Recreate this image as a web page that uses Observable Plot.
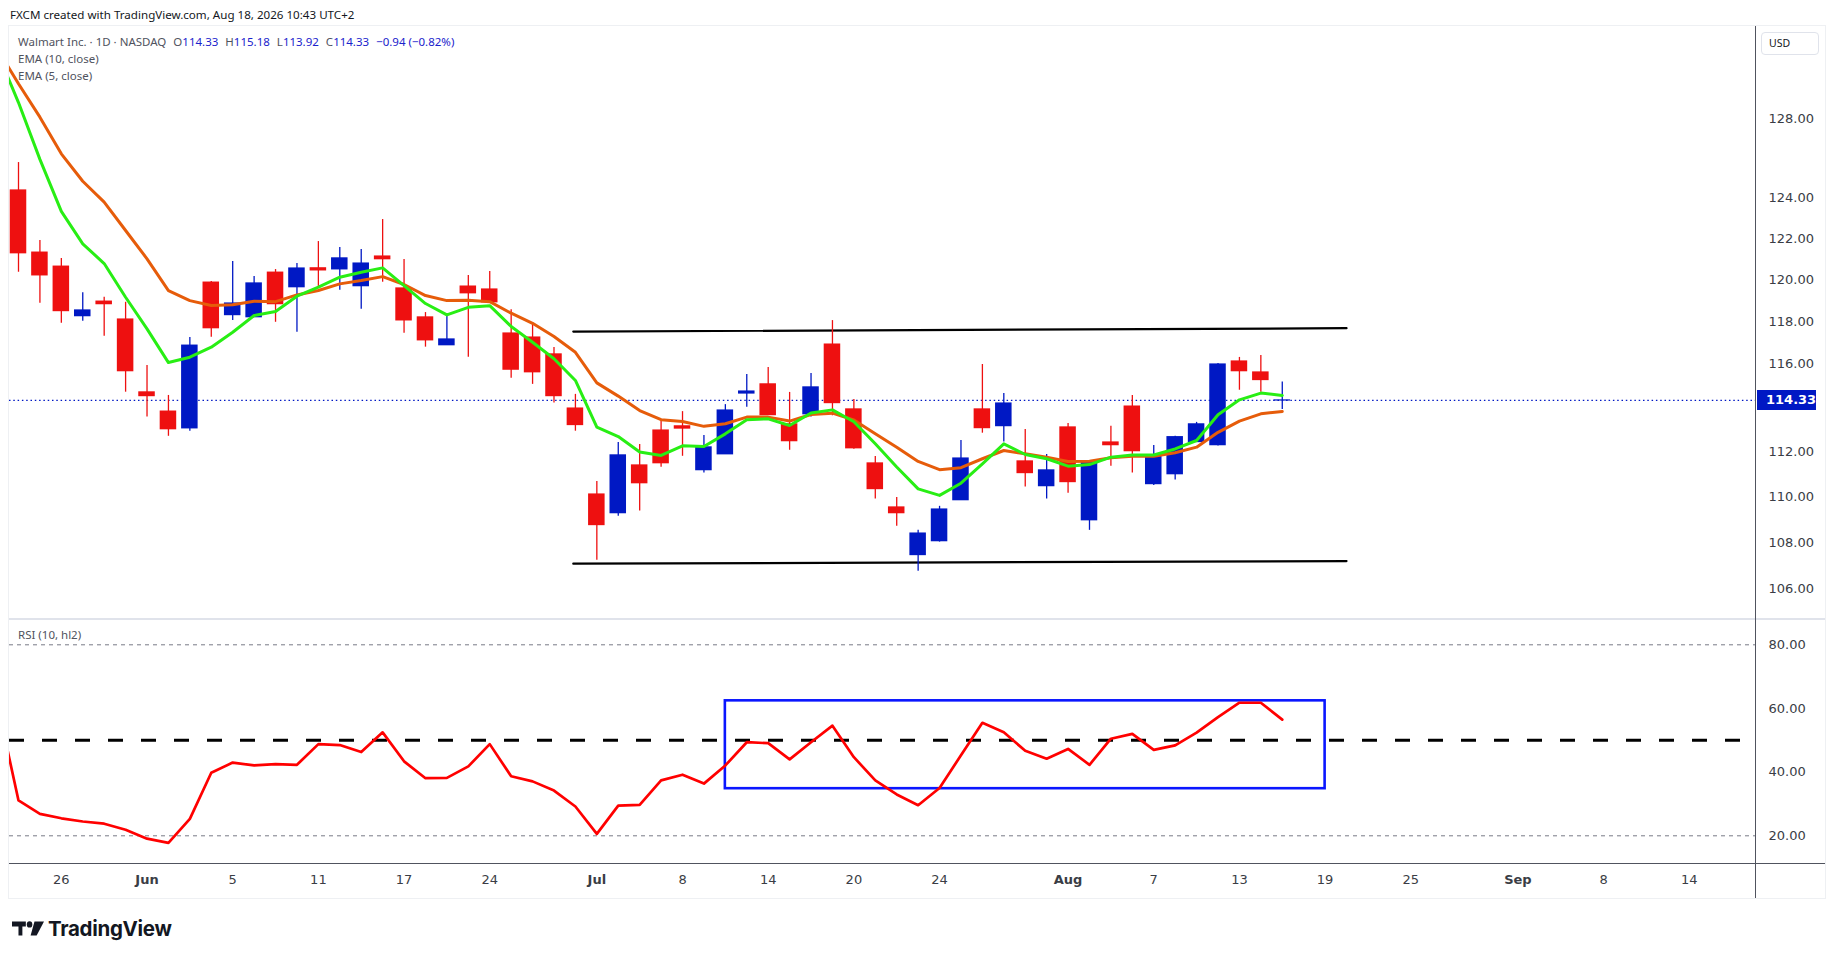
<!DOCTYPE html>
<html>
<head>
<meta charset="utf-8">
<script src="https://cdn.jsdelivr.net/npm/d3@7"></script>
<script src="https://cdn.jsdelivr.net/npm/@observablehq/plot@0.6"></script>
<style>
  html, body { margin:0; padding:0; background:#fff; }
  body { width:1835px; height:959px; position:relative; overflow:hidden; font-family:"Noto Sans", sans-serif; color:#131722; }
  .abs { position:absolute; }
  .leg { position:absolute; left:18px; height:16px; line-height:16px; font-size:11.5px; color:#50535e; white-space:nowrap; }
  .leg .v { color:#1a22cc; }
  .leg .g { margin-left:7px; }
</style>
</head>
<body>
<script>
// ---------- DATA ----------
const dates = ["05-21","05-22","05-26","05-27","05-28","05-29","06-01","06-02","06-03","06-04",
  "06-05","06-08","06-09","06-10","06-11","06-12","06-15","06-16","06-17","06-18",
  "06-22","06-23","06-24","06-25","06-26","06-29","06-30","07-01","07-02","07-06",
  "07-07","07-08","07-09","07-10","07-13","07-14","07-15","07-16","07-17","07-20",
  "07-21","07-22","07-23","07-24","07-27","07-28","07-29","07-30","07-31","08-03",
  "08-04","08-05","08-06","08-07","08-10","08-11","08-12","08-13","08-14","08-17"];

const open = [124.37,121.31,120.63,118.26,118.95,118.10,114.70,113.82,113.06,119.86,
  118.31,118.21,120.34,119.64,120.55,120.50,119.69,121.12,119.58,118.20,
  116.89,119.67,119.53,117.44,117.25,116.46,113.96,110.10,109.28,111.39,
  112.96,113.15,111.18,111.89,114.65,115.07,113.24,113.70,116.92,113.92,
  111.48,109.53,107.46,108.06,109.85,113.92,113.16,111.57,110.47,113.10,
  108.97,112.42,114.05,110.56,111.00,112.44,112.30,116.13,115.62,114.33];
const high = [125.77,121.90,121.03,119.38,119.16,118.92,115.94,114.56,117.25,119.91,
  120.88,120.15,120.49,120.78,121.85,121.56,121.46,122.93,120.98,118.43,
  118.29,120.20,120.39,118.57,117.89,116.78,114.61,110.68,112.42,112.33,
  113.39,113.82,112.74,114.14,115.53,115.85,114.70,115.57,118.05,114.38,
  111.79,109.97,108.53,109.58,112.51,115.99,114.65,113.01,111.88,113.28,
  111.60,113.15,114.56,112.28,112.70,113.33,116.04,116.32,116.41,115.18];
const low = [120.36,118.87,117.92,118.02,117.31,114.71,113.57,112.70,112.93,117.26,
  118.06,118.21,117.97,117.50,119.67,119.49,118.59,119.88,117.45,116.80,
  116.89,116.33,118.86,115.35,115.07,114.21,112.93,107.24,109.15,109.37,
  111.31,111.80,111.05,111.89,114.02,113.66,112.07,113.57,113.63,112.12,
  109.90,108.71,106.77,108.02,109.85,112.84,112.44,110.43,109.90,110.16,
  108.53,111.36,111.05,110.50,110.74,112.44,112.26,114.80,114.71,113.92];
const close = [121.28,120.21,118.50,118.53,118.83,115.68,114.53,113.02,116.87,117.69,
  118.86,119.82,118.83,120.54,120.45,121.03,120.78,120.99,118.06,117.12,
  117.16,119.35,118.92,115.75,115.63,114.53,113.21,108.76,111.84,110.60,
  111.49,113.05,112.20,113.87,114.74,113.66,112.48,114.93,114.21,112.16,
  110.34,109.28,108.39,109.44,111.70,113.07,114.19,111.05,111.17,110.65,
  111.54,112.30,112.03,111.83,112.66,113.24,115.99,115.68,115.27,114.33];

// EMA values: first entry is the bar just before the visible window
const ema10 = [131.66,129.81,128.08,126.21,124.83,123.79,122.39,121.01,119.48,119.00,118.77,
  118.80,118.97,118.95,119.27,119.48,119.80,119.96,120.15,119.77,119.24,
  119.00,119.02,118.95,118.40,117.92,117.30,116.56,115.14,114.53,113.87,
  113.45,113.37,113.15,113.27,113.57,113.57,113.39,113.69,113.75,113.44,
  112.81,112.21,111.57,111.20,111.29,111.69,112.06,111.91,111.76,111.57,
  111.58,111.73,111.80,111.80,111.96,112.21,112.88,113.39,113.72,113.83];
const ema5 = [131.49,128.83,125.93,123.33,121.74,120.78,119.16,117.66,116.08,116.33,116.80,
  117.50,118.29,118.48,119.21,119.64,120.12,120.36,120.57,119.72,118.86,
  118.32,118.68,118.76,117.77,117.03,116.26,115.25,113.11,112.69,111.99,
  111.84,112.27,112.24,112.81,113.45,113.49,113.19,113.76,113.90,113.36,
  112.36,111.32,110.35,110.06,110.60,111.46,112.36,111.88,111.69,111.36,
  111.43,111.76,111.86,111.86,112.13,112.51,113.68,114.36,114.67,114.56];
const rsi = [62.0,31.1,26.9,25.5,24.5,23.8,21.9,19.1,17.8,25.3,39.8,
  43.0,42.1,42.5,42.3,48.8,48.5,46.3,52.5,43.4,38.1,
  38.2,41.8,48.8,38.7,37.1,34.2,29.2,20.6,29.5,29.7,
  37.4,39.2,36.4,42.1,49.4,49.1,44.0,49.4,54.6,44.7,
  37.4,33.0,29.6,35.0,45.3,55.5,52.5,46.7,44.2,47.3,
  42.3,50.5,52.0,47.0,48.4,52.4,57.3,61.8,61.8,56.5];

// Drawn channel (bar index, price)
const channelIdx = [25.9, 62.0];
const channelTop = [117.53, 117.69];
const channelBottom = [107.09, 107.20];
// RSI highlight box
const rsiBoxIdx = [33, 61];
const rsiBoxLevels = [34.8, 62.4];
const rsiLevels = [20, 80];
const rsiMid = 50;

const lastClose = 114.33;
const priceTicks = [106, 108, 110, 112, 116, 118, 120, 122, 124, 128];
const rsiTicks = [20, 40, 60, 80];
const dayTickIdx = [2, 10, 14, 18, 22, 31, 35, 39, 43, 53, 57, 61, 65, 74, 78];
const dayTickLabels = ["26","5","11","17","24","8","14","20","24","7","13","19","25","8","14"];
const monthTickIdx = [6, 27, 49, 70];
const monthTickLabels = ["Jun","Jul","Aug","Sep"];

// ---------- build tables ----------
const UP = "#0018c4", DOWN = "#ee1010";
const candles = dates.map((d, i) => ({i, date: d, open: open[i], high: high[i], low: low[i], close: close[i]}));
const colorOf = d => d.close >= d.open ? UP : DOWN;
const emaRows = arr => arr.map((v, k) => ({i: k - 1, v}));
const rsiRows = rsi.map((v, k) => ({i: k - 1, v}));
const chanTop = channelIdx.map((x, k) => ({i: x, v: channelTop[k]}));
const chanBot = channelIdx.map((x, k) => ({i: x, v: channelBottom[k]}));
const dayMap = new Map(dayTickIdx.map((d, k) => [d, dayTickLabels[k]]));
const monMap = new Map(monthTickIdx.map((d, k) => [d, monthTickLabels[k]]));

const xDomain = [-0.4202, 81.093];
const W = 1816;
const axisStyle = {fontFamily: "'DejaVu Sans', sans-serif", fontSize: "13px", color: "#3a3d45", background: "transparent", overflow: "visible"};

const mainPlot = Plot.plot({
  width: W, height: 593,
  marginLeft: 0, marginRight: 70, marginTop: 0, marginBottom: 0,
  x: {type: "linear", domain: xDomain, axis: null},
  y: {type: "log", domain: [104.72, 132.82], axis: null},
  color: {type: "identity"},
  style: axisStyle,
  marks: [
    Plot.ruleY([lastClose], {stroke: UP, strokeDasharray: "1.5,2.8", strokeWidth: 1.2}),
    Plot.line(chanTop, {x: "i", y: "v", stroke: "#000", strokeWidth: 2.2}),
    Plot.line(chanBot, {x: "i", y: "v", stroke: "#000", strokeWidth: 2.2}),
    Plot.ruleX(candles, {x: "i", y1: "low", y2: "high", stroke: colorOf, strokeWidth: 1.3}),
    Plot.rect(candles, {x1: d => d.i - 0.5, x2: d => d.i + 0.5, y1: "open", y2: "close",
      insetLeft: 2.45, insetRight: 2.45, insetTop: -0.6, insetBottom: -0.6, fill: colorOf}),
    Plot.line(emaRows(ema10), {x: "i", y: "v", stroke: "#e65c0a", strokeWidth: 3, strokeLinejoin: "round", clip: true}),
    Plot.line(emaRows(ema5), {x: "i", y: "v", stroke: "#28ee14", strokeWidth: 3, strokeLinejoin: "round", clip: true}),
    Plot.axisY({anchor: "right", ticks: priceTicks, tickFormat: d3.format(".2f"), tickSize: 0, tickPadding: 13, label: null})
  ]
});
mainPlot.style.position = "absolute";
mainPlot.style.left = "9px";
mainPlot.style.top = "26px";
document.body.appendChild(mainPlot);

const rsiPlot = Plot.plot({
  width: W, height: 279,
  marginLeft: 0, marginRight: 70, marginTop: 0, marginBottom: 35,
  x: {type: "linear", domain: xDomain, axis: null},
  y: {type: "linear", domain: [11.3, 87.95], axis: null},
  style: axisStyle,
  marks: [
    Plot.ruleY(rsiLevels, {stroke: "#787b86", strokeDasharray: "4,4", strokeWidth: 1}),
    Plot.ruleY([rsiMid], {stroke: "#000", strokeDasharray: "15,18", strokeWidth: 3}),
    Plot.rect([{x1: rsiBoxIdx[0], x2: rsiBoxIdx[1], y1: rsiBoxLevels[0], y2: rsiBoxLevels[1]}],
      {x1: "x1", x2: "x2", y1: "y1", y2: "y2", fill: "none", stroke: "#0a16ff", strokeWidth: 2.6}),
    Plot.line(rsiRows, {x: "i", y: "v", stroke: "#ff0000", strokeWidth: 2.7, strokeLinejoin: "round", clip: true}),
    Plot.axisY({anchor: "right", ticks: rsiTicks, tickFormat: d3.format(".2f"), tickSize: 0, tickPadding: 13, label: null}),
    Plot.axisX({anchor: "bottom", ticks: dayTickIdx, tickFormat: d => dayMap.get(d), tickSize: 0, tickPadding: 11, label: null}),
    Plot.axisX({anchor: "bottom", ticks: monthTickIdx, tickFormat: d => monMap.get(d), tickSize: 0, tickPadding: 11, label: null, fontWeight: "bold"})
  ]
});
rsiPlot.style.position = "absolute";
rsiPlot.style.left = "9px";
rsiPlot.style.top = "619px";
document.body.appendChild(rsiPlot);

// ---------- frame lines & overlays ----------
function box(css) { const d = document.createElement("div"); d.className = "abs"; Object.assign(d.style, css); document.body.appendChild(d); return d; }
box({left: "8px", top: "25px", width: "1818px", height: "874px", border: "1.5px solid #eef0f3", boxSizing: "border-box"});
box({left: "9px", top: "618px", width: "1816px", height: "1.5px", background: "#e0e3eb"});
box({left: "9px", top: "863px", width: "1816px", height: "1px", background: "#50535e"});
box({left: "1755px", top: "26px", width: "1px", height: "872px", background: "#50535e"});

const usd = box({left: "1761px", top: "32px", width: "58px", height: "23px", border: "1px solid #e0e3eb", borderRadius: "4px",
  boxSizing: "border-box", fontFamily: "'Noto Sans', sans-serif", fontSize: "10.5px", lineHeight: "21px", paddingLeft: "7px", color: "#131722", background: "#fff"});
usd.textContent = "USD";

const yPix = mainPlot.scale("y").apply(lastClose);
const lab = box({left: "1757px", top: (26 + yPix - 10) + "px", width: "59px", height: "20px", background: UP, color: "#fff",
  fontFamily: "'DejaVu Sans', sans-serif", fontWeight: "bold", fontSize: "13px", lineHeight: "20px", paddingLeft: "9px", boxSizing: "border-box"});
lab.textContent = lastClose.toFixed(2);

// title
const t = box({left: "10px", top: "7px", fontSize: "11.6px", lineHeight: "16px", color: "#131722", whiteSpace: "nowrap"});
t.textContent = "FXCM created with TradingView.com, Aug 18, 2026 10:43 UTC+2";

// legends
const chg = close[close.length - 1] - close[close.length - 2];
const l1 = box({}); l1.className = "leg"; l1.style.top = "34px";
l1.innerHTML = 'Walmart Inc. · 1D · NASDAQ' +
  '<span class="g">O<span class="v">' + open[59].toFixed(2) + '</span></span>' +
  '<span class="g">H<span class="v">' + high[59].toFixed(2) + '</span></span>' +
  '<span class="g">L<span class="v">' + low[59].toFixed(2) + '</span></span>' +
  '<span class="g">C<span class="v">' + close[59].toFixed(2) + '</span></span>' +
  '<span class="g v">−' + Math.abs(chg).toFixed(2) + ' (−' + Math.abs(chg / close[58] * 100).toFixed(2) + '%)</span>';
const l2 = box({}); l2.className = "leg"; l2.style.top = "51px"; l2.textContent = "EMA (10, close)";
const l3 = box({}); l3.className = "leg"; l3.style.top = "68px"; l3.textContent = "EMA (5, close)";
const l4 = box({}); l4.className = "leg"; l4.style.top = "627px"; l4.style.fontSize = "11.5px"; l4.textContent = "RSI (10, hl2)";

// TradingView logo
const logo = box({left: "12px", top: "917px", height: "22px", display: "flex", alignItems: "center"});
logo.innerHTML = '<svg width="32" height="15" viewBox="0 0 37 15" preserveAspectRatio="none" style="margin-right:4px">' +
  '<path d="M0 0.5H16V5.5H12V14.5H7.5V5.5H0Z" fill="#131722"/>' +
  '<circle cx="20.3" cy="3.4" r="3.2" fill="#131722"/>' +
  '<path d="M26 0.5H37L28.5 14.5H21.5Z" fill="#131722"/></svg>' +
  '<span style="font-family:Inter, sans-serif; font-weight:700; font-size:20.5px; color:#131722; letter-spacing:-0.3px">TradingView</span>';
</script>
</body>
</html>
